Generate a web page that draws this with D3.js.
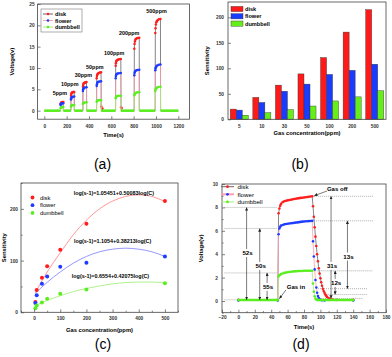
<!DOCTYPE html>
<html><head><meta charset="utf-8">
<script src="https://cdn.jsdelivr.net/npm/d3@7"></script>
<style>body{margin:0;background:#fff}svg{display:block}text{font-family:"Liberation Sans",Arial,sans-serif}</style>
</head><body><svg id="c" width="392" height="357"></svg>
<script>
// ---------- shared ----------
const seriesNames = ["disk", "flower", "dumbbell"];
const markerColors = ["#ff1e1e", "#1e3cff", "#5aee20"];
const lineColors = ["#666666", "#ff9cb0", "#a6ee7a"];
const fitColors = ["#ff8a8a", "#8a8aff", "#a8f080"];
const barColors = ["#ff1a1a", "#1a3cff", "#66ee1a"];

// ---------- panel (a) ----------
const aTicksX = [0, 200, 400, 600, 800, 1000, 1200];
const aTicksY = [0, 5, 10, 15, 20, 25];
const aLabels = ["5ppm", "10ppm", "30ppm", "50ppm", "100ppm", "200ppm", "500ppm"];
const aLabelT = [140, 228, 350, 452, 625, 760, 1005];
const aLabelV = [4.1, 6.3, 8.4, 10.3, 13.4, 18.2, 23.3];
const aDisk = [[0,0],[145,0],[146,1.55],[148,1.75],[151,1.85],[155,1.95],[160,2.0],[165,2.05],[170,2.05],[171,0],
 [238,0],[239,3.5],[241,3.9],[244,4.1],[248,4.25],[253,4.3],[258,4.35],[263,4.4],[268,4.4],[269,0],
 [345,0],[346,5.6],[348,6.0],[351,6.3],[355,6.45],[360,6.55],[366,6.6],[372,6.65],[378,6.7],[379,0],
 [468,0],[469,7.6],[471,8.1],[474,8.4],[478,8.6],[483,8.75],[490,8.85],[498,8.95],[508,9.0],[510,1.0],[515,-0.1],[520,0.5],[524,0],
 [638,0],[639,10.5],[641,11.1],[644,11.5],[648,11.75],[654,11.9],[662,12.0],[672,12.05],[685,12.1],[687,0.8],[692,0.6],[695,0],
 [805,0],[806,14.5],[808,15.6],[811,16.2],[815,16.6],[820,16.8],[828,16.95],[838,17.05],[850,17.1],[851,0],
 [993,0],[994,18.2],[996,19.3],[999,20.2],[1003,20.7],[1008,21.0],[1015,21.2],[1025,21.4],[1040,21.5],[1041,0],[1200,0]];
const aFlower = [[0,0],[145,0],[146,1.3],[148,1.5],[151,1.6],[155,1.7],[162,1.75],[170,1.75],[171,0],
 [238,0],[239,2.6],[241,2.9],[244,3.1],[249,3.2],[256,3.25],[268,3.3],[269,0],
 [345,0],[346,4.6],[348,5.0],[351,5.2],[356,5.35],[363,5.45],[378,5.5],[379,0],
 [468,0],[469,5.8],[471,6.2],[474,6.5],[479,6.7],[486,6.8],[496,6.85],[508,6.9],[509,0],
 [638,0],[639,7.6],[641,8.1],[644,8.4],[649,8.6],[656,8.7],[668,8.75],[685,8.8],[686,0],
 [805,0],[806,8.3],[808,8.8],[811,9.1],[816,9.3],[824,9.45],[836,9.55],[850,9.6],[851,0],
 [993,0],[994,9.5],[996,9.9],[999,10.2],[1004,10.45],[1012,10.6],[1025,10.75],[1040,10.8],[1041,0],[1200,0]];
const aDumbbell = [[0,0],[145,0],[146,0.6],[149,0.75],[155,0.8],[162,0.85],[170,0.85],[171,0],
 [238,0],[239,1.0],[242,1.15],[248,1.25],[256,1.3],[268,1.3],[269,0],
 [345,0],[346,1.6],[349,1.75],[355,1.85],[364,1.9],[378,1.95],[379,0],
 [468,0],[469,2.1],[472,2.3],[477,2.4],[486,2.45],[497,2.5],[508,2.45],[509,0],
 [638,0],[639,2.9],[642,3.2],[647,3.35],[655,3.45],[668,3.5],[685,3.5],[686,0],
 [805,0],[806,3.6],[809,3.9],[814,4.1],[822,4.2],[835,4.3],[850,4.3],[851,0],
 [993,0],[994,4.6],[997,5.0],[1002,5.25],[1010,5.45],[1022,5.55],[1040,5.6],[1041,0],[1200,0]];

// ---------- panel (b) / (c) ----------
const concCats = ["5", "10", "30", "50", "100", "200", "500"];
const concVals = [5, 10, 30, 50, 100, 200, 500];
const sensDisk = [20, 43, 67, 89, 121, 171, 215];
const sensFlower = [18, 33, 55, 69, 88, 96, 108];
const sensDumbbell = [8, 13, 19, 26, 36, 44, 56];
const bTicksY = [0, 50, 100, 150, 200];

const cTicksX = [0, 100, 200, 300, 400, 500];
const cMinorX = [-50, 50, 150, 250, 350, 450, 550];
const cTicksY = [0, 100, 200];
const cMinorY = [50, 150, 250];
const fitC = [5, 50, 100, 150, 200, 250, 300, 350, 400, 450, 500];
const fitDisk = [38, 78, 115, 150, 178, 200, 215, 224, 227, 224, 214];
const fitFlower = [37, 58, 78, 95, 108, 117, 122, 124, 122, 117, 108];
const fitDumbbell = [13, 23, 32, 40, 46, 51, 55, 57.5, 58.5, 58.5, 57.5];
const cEquations = ["log(s-1)=1.05451+0.50083log(C)", "log(s-1)=1.1054+0.38213log(C)", "log(s-1)=0.6554+0.42075log(C)"];
const cEqC = [305, 300, 292];
const cEqV = [230, 138, 70];

// ---------- panel (d) ----------
const dTicksX = [-20, 0, 20, 40, 60, 80, 100, 120, 140, 160, 180];
const dMinorX = [-10, 10, 30, 50, 70, 90, 110, 130, 150, 170];
const dTicksY = [0, 2, 4, 6, 8, 10];
const dMinorY = [-1, 1, 3, 5, 7, 9];
const dDisk = [[0,0.1],[48,0.1],[49,7.5],[50,7.9],[51,8.15],[52,8.3],[54,8.45],[56,8.52],[58,8.57],[60,8.6],[62,8.63],[64,8.66],[66,8.69],[68,8.72],[70,8.74],[72,8.77],[74,8.79],[76,8.81],[78,8.83],[80,8.85],[82,8.87],[84,8.89],[86,8.91],[88,8.93],[90,8.95],
 [91,8.1],[92,7.2],[93,6.3],[94,5.5],[95,4.7],[96,4.0],[97,3.4],[98,2.8],[99,2.35],[100,1.95],[101,1.6],[102,1.3],[103,1.05],[104,0.85],[105,0.7],[106,0.55],[107,0.45],[108,0.35],[110,0.25],[112,0.18],[115,0.12],[120,0.1],[140,0.1]];
const dFlower = [[0,0.05],[48,0.05],[49,5.7],[50,6.2],[51,6.35],[52,6.45],[54,6.5],[56,6.55],[58,6.58],[60,6.6],[62,6.62],[64,6.64],[66,6.66],[68,6.68],[70,6.7],[72,6.72],[74,6.74],[76,6.76],[78,6.78],[80,6.8],[82,6.81],[84,6.82],[86,6.83],[88,6.84],[90,6.85],
 [91,5.1],[92,3.8],[93,2.7],[94,1.8],[95,1.15],[96,0.7],[97,0.42],[98,0.25],[99,0.15],[100,0.1],[102,0.06],[105,0.05],[140,0.05]];
const dDumbbell = [[0,0.08],[48,0.08],[49,2.1],[50,2.2],[51,2.25],[52,2.3],[54,2.35],[56,2.4],[58,2.43],[60,2.46],[62,2.48],[64,2.5],[66,2.52],[68,2.53],[70,2.54],[72,2.55],[74,2.56],[76,2.57],[78,2.57],[80,2.58],[82,2.58],[84,2.58],[86,2.58],[88,2.58],[90,2.58],
 [91,1.5],[92,0.8],[93,0.4],[94,0.2],[95,0.12],[96,0.09],[98,0.08],[140,0.08]];
// dotted guide lines: [tStart, tEnd, level]
const dGuides = [[-17,47,8.0],[-17,47,6.2],[-17,47,2.4],[-17,47,0.1],[92,164,8.95],[92,164,6.85],[93,164,2.58],[97,157,1.05],[104,157,0.55],[101,152,0.22]];
// double arrows: [t, vLow, vHigh, label, labelV]
const dArrows = [[10,0.1,8.0,"52s",4.1],[26,0.1,6.2,"50s",3.0],[35,0.1,2.4,"55s",1.2],[113,0.22,8.95,"31s",3.0],[133,1.05,6.85,"13s",3.8],[118,0.55,2.58,"12s",1.55]];
const dNotes = ["Gas off", "Gas in"];
const dNoteAt = [[108, 9.6], [59, 1.2]];
const dNoteArrow = [[[108, 9.4], [92.5, 9.0]], [[58, 0.95], [50, 0.2]]];

// ---------- drawing ----------
const svg = d3.select("#c");
const FONT = "Liberation Sans, Arial, sans-serif";
svg.append("defs").append("marker").attr("id", "ah").attr("viewBox", "0 0 6 6").attr("refX", 6).attr("refY", 3)
  .attr("markerWidth", 3.2).attr("markerHeight", 3.2).attr("orient", "auto").attr("markerUnits", "userSpaceOnUse")
  .append("path").attr("d", "M0,0L6,3L0,6Z").attr("fill", "#222");

function axes(g, x, y, o) {
  const [x0, x1] = x.range(), [y0, y1] = y.range();
  const style = s => { s.select(".domain").remove(); s.attr("font-family", FONT).attr("font-size", o.fs || 4.8).attr("font-weight", "bold").attr("color", "#333"); s.selectAll("line").attr("stroke-width", 0.6); };
  if (o.xMinor) g.append("g").attr("transform", `translate(0,${y0})`).call(d3.axisBottom(x).tickValues(o.xMinor).tickSize(-1.6).tickFormat("")).call(style);
  if (o.yMinor) g.append("g").attr("transform", `translate(${x0},0)`).call(d3.axisLeft(y).tickValues(o.yMinor).tickSize(-1.6).tickFormat("")).call(style);
  const xa = (x.bandwidth ? d3.axisBottom(x).tickSize(0) : d3.axisBottom(x).tickValues(o.xTicks).tickSize(-3).tickFormat(d3.format("d"))).tickPadding(o.xPad);
  g.append("g").attr("transform", `translate(0,${y0})`).call(xa).call(style);
  g.append("g").attr("transform", `translate(${x0},0)`).call(d3.axisLeft(y).tickValues(o.yTicks).tickSize(-3).tickPadding(o.yPad).tickFormat(d3.format("d"))).call(style);
  g.append("rect").attr("x", x0).attr("y", y1).attr("width", x1 - x0).attr("height", y0 - y1)
    .attr("fill", "none").attr("stroke", "#444").attr("stroke-width", 0.8);
  g.append("text").attr("x", (x0 + x1) / 2).attr("y", o.xTitleY).attr("text-anchor", "middle")
    .attr("font-size", 5.8).attr("font-weight", "bold").text(o.xTitle);
  g.append("text").attr("transform", `translate(${o.yTitleX},${(y0 + y1) / 2}) rotate(-90)`).attr("text-anchor", "middle")
    .attr("font-size", 5.8).attr("font-weight", "bold").text(o.yTitle);
}
function panelLabel(txt, cx, cy) {
  svg.append("text").attr("x", cx).attr("y", cy + 5).attr("text-anchor", "middle").attr("font-family", "Open Sans, sans-serif")
    .attr("font-size", 14).text(txt);
}
function drawSeries(g, data, x, y, i, r, base) {
  g.append("path").datum(data).attr("fill", "none").attr("stroke", lineColors[i]).attr("stroke-width", 0.8)
    .attr("d", d3.line().x(d => x(d[0])).y(d => y(d[1])));
  g.append("g").selectAll("circle").data(data.filter(d => d[1] > base)).join("circle")
    .attr("cx", d => x(d[0])).attr("cy", d => y(d[1])).attr("r", r).attr("fill", markerColors[i]);
}
function drawBase(g, data, x, y, i, base) {
  for (let k = 0; k < data.length - 1; k++) {
    if (data[k][1] <= base && data[k + 1][1] <= base)
      g.append("line").attr("x1", x(data[k][0])).attr("x2", x(data[k + 1][0])).attr("y1", y(data[k][1])).attr("y2", y(data[k + 1][1]))
        .attr("stroke", markerColors[i]).attr("stroke-width", 2.6);
  }
}

// ===== (a) =====
{
  const g = svg.append("g");
  const x = d3.scaleLinear().domain([-60, 1300]).range([37.6, 189.5]);
  const y = d3.scaleLinear().domain([-2, 25]).range([119.2, 4]);
  const all = [aDisk, aFlower, aDumbbell];
  all.forEach((d, i) => drawSeries(g, d, x, y, i, 1.25, 0));
  drawBase(g, aDumbbell, x, y, 2, 0);
  axes(g, x, y, { xTicks: aTicksX, yTicks: aTicksY, xPad: 5, yPad: 3, xTitle: "Time(s)", yTitle: "Voltage(v)", xTitleY: 137, yTitleX: 14 });
  g.append("g").selectAll("text").data(aLabels).join("text").attr("x", (d, i) => x(aLabelT[i])).attr("y", (d, i) => y(aLabelV[i]) + 2)
    .attr("text-anchor", "middle").attr("font-size", 5.4).attr("font-weight", "bold").text(d => d);
  g.append("rect").attr("x", 41).attr("y", 9).attr("width", 41).attr("height", 23).attr("fill", "#fff").attr("stroke", "#777").attr("stroke-width", 0.6);
  seriesNames.forEach((n, i) => {
    const yy = 14 + i * 6.5;
    g.append("line").attr("x1", 43).attr("x2", 53).attr("y1", yy).attr("y2", yy).attr("stroke", lineColors[i]).attr("stroke-width", 1);
    g.append("circle").attr("cx", 48).attr("cy", yy).attr("r", 1.3).attr("fill", markerColors[i]);
    g.append("text").attr("x", 55).attr("y", yy + 2).attr("font-size", 5.6).attr("font-weight", "bold").text(n);
  });
  panelLabel("(a)", 102.5, 163.5);
}

// ===== (b) =====
{
  const g = svg.append("g");
  const x = d3.scaleBand().domain(concCats).range([228, 386]).paddingInner(0.2).paddingOuter(0.1);
  const xs = d3.scaleBand().domain(seriesNames).range([0, x.bandwidth()]);
  const y = d3.scaleLinear().domain([0, 230]).range([119.3, 2]);
  const vals = [sensDisk, sensFlower, sensDumbbell];
  vals.forEach((arr, i) => {
    g.append("g").selectAll("rect").data(arr).join("rect")
      .attr("x", (d, k) => x(concCats[k]) + xs(seriesNames[i])).attr("width", xs.bandwidth())
      .attr("y", d => y(d)).attr("height", d => y(0) - y(d))
      .attr("fill", barColors[i]).attr("stroke", "#333").attr("stroke-width", 0.4);
  });
  axes(g, x, y, { yTicks: bTicksY, xPad: 5, yPad: 4, xTitle: "Gas concentration(ppm)", yTitle: "Sensitivity", xTitleY: 135, yTitleX: 209 });
  seriesNames.forEach((n, i) => {
    const yy = 9 + i * 7.3;
    g.append("rect").attr("x", 231).attr("y", yy - 2.6).attr("width", 12).attr("height", 5.2).attr("fill", barColors[i]).attr("stroke", "#333").attr("stroke-width", 0.4);
    g.append("text").attr("x", 245).attr("y", yy + 2).attr("font-size", 5.6).attr("font-weight", "bold").text(n);
  });
  panelLabel("(b)", 300, 163.5);
}

// ===== (c) =====
{
  const g = svg.append("g");
  const x = d3.scaleLinear().domain([-50, 550]).range([21, 178]);
  const y = d3.scaleLinear().domain([0, 250]).range([312.3, 183]);
  [fitDisk, fitFlower, fitDumbbell].forEach((f, i) => {
    g.append("path").datum(f).attr("fill", "none").attr("stroke", fitColors[i]).attr("stroke-width", 0.9)
      .attr("d", d3.line().curve(d3.curveNatural).x((d, k) => x(fitC[k])).y(d => y(d)));
  });
  [sensDisk, sensFlower, sensDumbbell].forEach((arr, i) => {
    g.append("g").selectAll("circle").data(arr).join("circle")
      .attr("cx", (d, k) => x(concVals[k])).attr("cy", d => y(d)).attr("r", 2).attr("fill", markerColors[i]);
  });
  axes(g, x, y, { xTicks: cTicksX, yTicks: cTicksY, xMinor: cMinorX, yMinor: cMinorY, xPad: 4, yPad: 3, xTitle: "Gas concentration(ppm)", yTitle: "Sensitivity", xTitleY: 332, yTitleX: 6 });
  g.append("g").selectAll("text").data(cEquations).join("text").attr("x", (d, i) => x(cEqC[i])).attr("y", (d, i) => y(cEqV[i]) + 2)
    .attr("text-anchor", "middle").attr("font-size", 5.4).attr("font-weight", "bold").text(d => d);
  seriesNames.forEach((n, i) => {
    const yy = 197.5 + i * 7.7;
    g.append("circle").attr("cx", 32.5).attr("cy", yy).attr("r", 1.9).attr("fill", markerColors[i]);
    g.append("text").attr("x", 40).attr("y", yy + 2).attr("font-size", 5.8).text(n);
  });
  panelLabel("(c)", 103, 344);
}

// ===== (d) =====
{
  const g = svg.append("g");
  const x = d3.scaleLinear().domain([-20, 180]).range([222, 386]);
  const y = d3.scaleLinear().domain([-1, 10]).range([312.7, 184]);
  dGuides.forEach(d => g.append("line").attr("x1", x(d[0])).attr("x2", x(d[1])).attr("y1", y(d[2])).attr("y2", y(d[2]))
    .attr("stroke", "#777").attr("stroke-width", 0.6).attr("stroke-dasharray", "1,1"));
  const all = [dDisk, dFlower, dDumbbell];
  all.forEach((d, i) => drawSeries(g, d, x, y, i, 1.3, -1));
  drawBase(g, dDumbbell, x, y, 2, 0.1);
  axes(g, x, y, { xTicks: dTicksX, yTicks: dTicksY, xMinor: dMinorX, yMinor: dMinorY, xPad: 2.5, yPad: 4, xTitle: "Time(s)", yTitle: "Voltage(v)", xTitleY: 329, yTitleX: 203 });
  dArrows.forEach(a => {
    const xx = x(a[0]), yl = y(a[4]);
    g.append("line").attr("x1", xx).attr("x2", xx).attr("y1", yl + 4).attr("y2", y(a[1])).attr("stroke", "#222").attr("stroke-width", 0.6).attr("marker-end", "url(#ah)");
    g.append("line").attr("x1", xx).attr("x2", xx).attr("y1", yl - 4).attr("y2", y(a[2])).attr("stroke", "#222").attr("stroke-width", 0.6).attr("marker-end", "url(#ah)");
    g.append("text").attr("x", xx + 1).attr("y", yl + 2).attr("text-anchor", "middle").attr("font-size", 6.2).attr("font-weight", "bold").text(a[3]);
  });
  dNotes.forEach((n, i) => {
    g.append("text").attr("x", x(dNoteAt[i][0])).attr("y", y(dNoteAt[i][1]) + 2).attr("font-size", 6).attr("font-weight", "bold").text(n);
    const p = dNoteArrow[i];
    g.append("line").attr("x1", x(p[0][0])).attr("y1", y(p[0][1])).attr("x2", x(p[1][0])).attr("y2", y(p[1][1]))
      .attr("stroke", "#222").attr("stroke-width", 0.6).attr("marker-end", "url(#ah)");
  });
  seriesNames.forEach((n, i) => {
    const yy = 186.7 + i * 7.6;
    g.append("line").attr("x1", 221).attr("x2", 234).attr("y1", yy).attr("y2", yy).attr("stroke", lineColors[i]).attr("stroke-width", i === 1 ? 2 : 1);
    g.append("circle").attr("cx", 227.5).attr("cy", yy).attr("r", 1.4).attr("fill", markerColors[i]);
    g.append("text").attr("x", 237.5).attr("y", yy + 2.2).attr("font-size", 6.2).text(n);
  });
  panelLabel("(d)", 301, 344);
}
</script></body></html>
